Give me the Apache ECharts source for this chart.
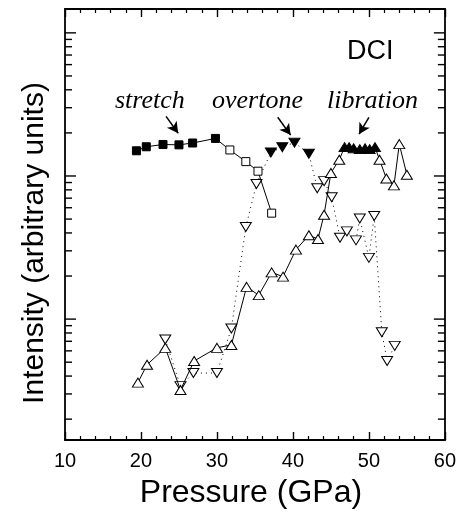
<!DOCTYPE html>
<html><head><meta charset="utf-8">
<script src="https://cdn.jsdelivr.net/npm/echarts@6/dist/echarts.min.js"></script>
<style>html,body{margin:0;padding:0;background:#fff}#c{width:459px;height:514px}</style>
</head><body><div id="c"></div>
<script>
// Stretch band (squares)
const stretchFilledP = [19.4, 20.7, 22.9, 25.0, 26.8, 29.8];
const stretchFilledI = [150, 160, 166, 165, 170, 183];
const stretchOpenP = [31.7, 33.8, 35.4, 37.2];
const stretchOpenI = [152, 126, 108, 55];
// Overtone band (down triangles, dotted)
const overtoneLowP = [23.2, 25.2, 26.9, 30.0, 31.9, 33.8, 35.2];
const overtoneLowI = [7.2, 3.4, 4.2, 4.2, 8.6, 44, 88];
const overtonePeakP = [37.1, 38.6, 40.2, 42.1];
const overtonePeakI = [146, 159, 171, 143];
const overtoneHighP = [43.2, 44.1, 45.1, 46.2, 47.1, 48.3, 48.8, 50.0, 50.7, 51.7, 52.4, 53.4];
const overtoneHighI = [82, 92, 71, 37, 41, 35.5, 50.5, 26.8, 52.5, 8.1, 5.1, 6.5];
// Libration band (up triangles, solid)
const libLowP = [19.6, 20.8, 23.2, 25.2, 27.0, 30.0, 31.9, 33.9, 35.5, 37.2, 38.7, 40.4, 42.1, 43.3, 44.1, 45.0, 46.1];
const libLowI = [3.6, 4.8, 6.3, 3.2, 5.1, 6.3, 6.6, 16.8, 14.7, 21.2, 19.8, 30.6, 38.5, 36.3, 53.6, 105, 130];
const libPeakP = [46.8, 47.4, 48.0, 48.8, 49.5, 50.1, 50.8];
const libPeakI = [159, 159, 156, 154, 156, 154, 159];
const libHighP = [51.4, 52.3, 53.3, 54.0, 55.0];
const libHighI = [130, 96, 86, 167, 102];
// Axis ticks
const xTickLabels = [10, 20, 30, 40, 50, 60];
const yMajorTicks = [10, 100, 1000];
const yMinorTicks = [2, 3, 4, 5, 6, 7, 8, 9, 20, 30, 40, 50, 60, 70, 80, 90, 200, 300, 400, 500, 600, 700, 800, 900];
// Annotations
const bandLabels = ['stretch', 'overtone', 'libration'];
const arrowStarts = [[23.3, 261], [38.0, 257], [50.0, 257]];
const arrowEnds = [[24.9, 199], [39.7, 193], [48.7, 196]];

const openStyle = {color: '#fff', borderColor: '#000', borderWidth: 1};
const filledStyle = {color: '#000', borderColor: '#000', borderWidth: 1};
function pts(P, I, style) { return P.map((p, i) => ({value: [p, I[i]], itemStyle: style})); }

const YMIN = 1.43, YMAX = 1468;
const FONT = 'Liberation Sans';
const MAJOR_LEN = 11, MINOR_LEN = 7;

function xAx(pos, showLabel) {
  return {type: 'value', min: 10, max: 60, interval: 10, position: pos,
    axisLine: {onZero: false, lineStyle: {color: '#000', width: 1.8}},
    axisTick: {inside: true, length: 8, lineStyle: {color: '#000', width: 1.4}},
    minorTick: {show: true, splitNumber: 5, length: 4, lineStyle: {color: '#000', width: 1.2}},
    splitLine: {show: false}, minorSplitLine: {show: false},
    axisLabel: {show: showLabel, fontSize: 20, color: '#000', fontFamily: FONT, margin: 11,
      formatter: v => xTickLabels.includes(v) ? String(v) : ''}};
}
// Log-axis tick marks on both sides, placed through the y axis scale.
function tickSeries(values, len) {
  return {type: 'custom', coordinateSystem: 'cartesian2d', xAxisIndex: 0, yAxisIndex: 0, silent: true, clip: false, z: 5,
    data: values.map(v => [10, v]),
    renderItem: (params, api) => {
      const y = api.coord([10, api.value(1)])[1];
      const cs = params.coordSys;
      const st = {stroke: '#000', lineWidth: 1.4};
      return {type: 'group', children: [
        {type: 'line', shape: {x1: cs.x, y1: y, x2: cs.x + len, y2: y}, style: st},
        {type: 'line', shape: {x1: cs.x + cs.width - len, y1: y, x2: cs.x + cs.width, y2: y}, style: st}
      ]};
    }};
}

const chart = echarts.init(document.getElementById('c'), null, {renderer: 'canvas'});
const xb = xAx('bottom', true);
xb.name = 'Pressure (GPa)'; xb.nameLocation = 'middle'; xb.nameGap = 37;
xb.nameTextStyle = {fontSize: 32, color: '#000', fontFamily: FONT, padding: [0, 8, 0, 0]};

chart.setOption({
  animation: false,
  backgroundColor: '#fff',
  grid: {left: 65, right: 14, top: 9, bottom: 71},
  xAxis: [xb, xAx('top', false)],
  yAxis: [
    {type: 'log', logBase: 10, min: YMIN, max: YMAX, position: 'left',
      axisLine: {show: true, onZero: false, lineStyle: {color: '#000', width: 1.8}},
      axisTick: {show: false}, axisLabel: {show: false}, splitLine: {show: false}},
    {type: 'log', logBase: 10, min: YMIN, max: YMAX, position: 'right',
      axisLine: {show: true, onZero: false, lineStyle: {color: '#000', width: 1.8}},
      axisTick: {show: false}, axisLabel: {show: false}, splitLine: {show: false}}
  ],
  series: [
    tickSeries(yMajorTicks, MAJOR_LEN),
    tickSeries(yMinorTicks, MINOR_LEN),
    {type: 'line', xAxisIndex: 0, yAxisIndex: 0, symbol: 'rect', symbolSize: 8,
      lineStyle: {color: '#000', width: 1}, z: 3,
      data: pts(stretchFilledP, stretchFilledI, filledStyle).concat(pts(stretchOpenP, stretchOpenI, openStyle)),
      markLine: {silent: true, symbol: ['none', 'arrow'], symbolSize: [9, 11], label: {show: false},
        lineStyle: {color: '#000', width: 1.5, type: 'solid'},
        data: arrowStarts.map((s, i) => [{coord: s}, {coord: arrowEnds[i]}])}},
    {type: 'line', xAxisIndex: 0, yAxisIndex: 0, symbol: 'triangle', symbolRotate: 180, symbolSize: [11, 9],
      lineStyle: {color: '#000', width: 1, type: [1, 4]}, z: 2,
      data: pts(overtoneLowP, overtoneLowI, openStyle).concat(pts(overtonePeakP, overtonePeakI, filledStyle), pts(overtoneHighP, overtoneHighI, openStyle))},
    {type: 'line', xAxisIndex: 0, yAxisIndex: 0, symbol: 'triangle', symbolSize: [11, 9],
      lineStyle: {color: '#000', width: 1}, z: 4,
      data: pts(libLowP, libLowI, openStyle).concat(pts(libPeakP, libPeakI, filledStyle), pts(libHighP, libHighI, openStyle))}
  ],
  graphic: [
    {type: 'text', x: 35, y: 243, rotation: Math.PI / 2,
      style: {text: 'Intensity (arbitrary units)', font: '30px "Liberation Sans"', fill: '#000', align: 'center', verticalAlign: 'middle'}},
    {type: 'text', x: 347, y: 52, style: {text: 'DCI', font: '27px "Liberation Sans"', fill: '#000', align: 'left', verticalAlign: 'middle'}},
    {type: 'text', x: 115, y: 101, style: {text: bandLabels[0], font: 'italic 26px "Liberation Serif"', fill: '#000', align: 'left', verticalAlign: 'middle'}},
    {type: 'text', x: 212, y: 101, style: {text: bandLabels[1], font: 'italic 26px "Liberation Serif"', fill: '#000', align: 'left', verticalAlign: 'middle'}},
    {type: 'text', x: 327, y: 101, style: {text: bandLabels[2], font: 'italic 26px "Liberation Serif"', fill: '#000', align: 'left', verticalAlign: 'middle'}}
  ]
});
</script>
</body></html>
